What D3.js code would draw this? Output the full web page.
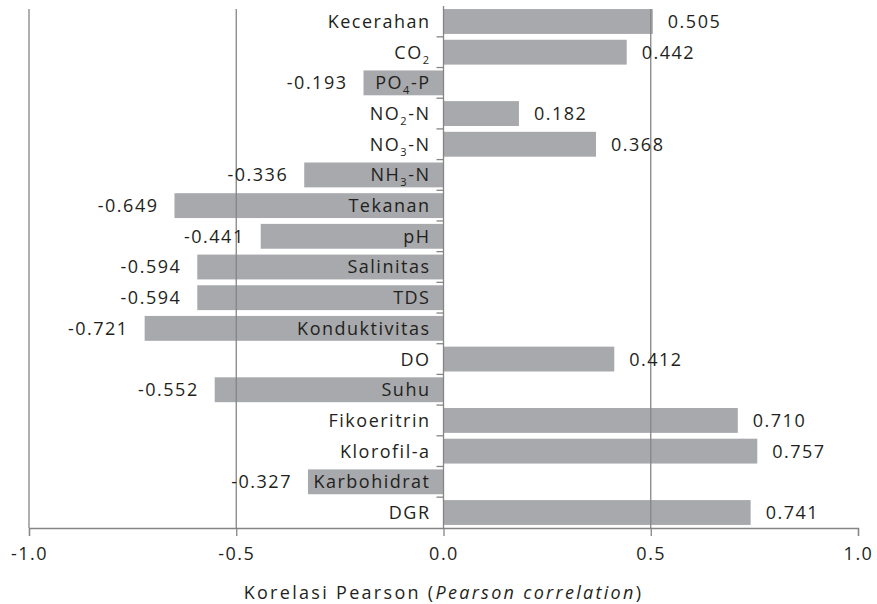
<!DOCTYPE html>
<html>
<head>
<meta charset="utf-8">
<script src="https://cdn.jsdelivr.net/npm/d3@7/dist/d3.min.js"></script>
<style>
  html, body { margin: 0; padding: 0; background: #fff; }
  svg text { font-family: "Open Sans", sans-serif; fill: #231f20; }
</style>
</head>
<body>
<svg id="chart" width="877" height="604"></svg>
<script>
// ── Data ──────────────────────────────────────────────────────────────────────
// label parts: [text, subscript, rest]
const categories = [
  ['Kecerahan'], ['CO', '2'], ['PO', '4', '-P'], ['NO', '2', '-N'], ['NO', '3', '-N'],
  ['NH', '3', '-N'], ['Tekanan'], ['pH'], ['Salinitas'], ['TDS'], ['Konduktivitas'],
  ['DO'], ['Suhu'], ['Fikoeritrin'], ['Klorofil-a'], ['Karbohidrat'], ['DGR']
];
const values = [0.505, 0.442, -0.193, 0.182, 0.368, -0.336, -0.649, -0.441, -0.594,
  -0.594, -0.721, 0.412, -0.552, 0.710, 0.757, -0.327, 0.741];
const xTicks = [-1.0, -0.5, 0.0, 0.5, 1.0];
const gridTicks = [-1.0, -0.5, 0.5];

const rows = categories.map((c, i) => ({ id: i, parts: c, v: values[i] }));

// plain hyphen for negatives, like the original
d3.formatDefaultLocale({ decimal: '.', thousands: ',', grouping: [3], currency: ['', ''], minus: '-' });

// ── Scales ────────────────────────────────────────────────────────────────────
const svg = d3.select('#chart');
const plotTop = 6, plotBottom = 528;
const x = d3.scaleLinear().domain([-1, 1]).range([29, 858]);
const y = d3.scaleBand().domain(rows.map(d => d.id)).range([plotTop, plotBottom]).paddingInner(0.19).paddingOuter(0.1);

const gray = '#858585';
const barCol = '#a7a9ac';
const fs = 18;
const ls = '1.5px';

// bars
svg.append('g').selectAll('rect')
  .data(rows)
  .join('rect')
  .attr('x', d => x(Math.min(0, d.v)))
  .attr('y', d => y(d.id))
  .attr('width', d => Math.abs(x(d.v) - x(0)))
  .attr('height', y.bandwidth())
  .attr('fill', barCol);

// gridlines (drawn over bars)
svg.append('g').selectAll('line')
  .data(gridTicks)
  .join('line')
  .attr('x1', d => x(d)).attr('x2', d => x(d))
  .attr('y1', 9).attr('y2', plotBottom)
  .attr('stroke', gray).attr('stroke-width', 1.3);

// x axis
const xAxis = svg.append('g')
  .attr('transform', `translate(0,${plotBottom})`)
  .call(d3.axisBottom(x).tickValues(xTicks).tickFormat(d3.format('.1f')).tickSize(8).tickPadding(11));
xAxis.select('.domain').attr('stroke', gray).attr('stroke-width', 1.3);
xAxis.selectAll('.tick line').attr('stroke', gray).attr('stroke-width', 1.3);
xAxis.selectAll('.tick text')
  .style('font-family', '"Open Sans", sans-serif')
  .style('font-size', fs + 'px')
  .attr('fill', '#231f20')
  .attr('letter-spacing', ls);

// zero axis with band-boundary ticks
const yAxis = svg.append('g').attr('transform', `translate(${x(0)},0)`);
yAxis.append('line')
  .attr('y1', plotTop).attr('y2', plotBottom)
  .attr('stroke', gray).attr('stroke-width', 1.3);
const step = y.step();
const bounds = d3.range(1, rows.length).map(i => y(i) - (step - y.bandwidth()) / 2);
yAxis.selectAll('.bt')
  .data(bounds)
  .join('line')
  .attr('class', 'bt')
  .attr('x1', -7).attr('x2', 0)
  .attr('y1', d => d).attr('y2', d => d)
  .attr('stroke', gray).attr('stroke-width', 1.3);

// category labels
const labels = svg.append('g').selectAll('text')
  .data(rows)
  .join('text')
  .attr('x', x(0) - 13)
  .attr('y', d => y(d.id) + y.bandwidth() / 2)
  .attr('dy', '0.36em')
  .attr('text-anchor', 'end')
  .attr('letter-spacing', ls)
  .style('font-size', fs + 'px');
labels.each(function (d) {
  const t = d3.select(this);
  t.append('tspan').text(d.parts[0]);
  if (d.parts.length > 1) {
    t.append('tspan').attr('dy', 5).style('font-size', '11px').text(d.parts[1]);
    if (d.parts[2]) t.append('tspan').attr('dy', -5).text(d.parts[2]);
  }
});

// value labels
svg.append('g').selectAll('text')
  .data(rows)
  .join('text')
  .attr('x', d => d.v >= 0 ? x(d.v) + 15 : x(d.v) - 16)
  .attr('y', d => y(d.id) + y.bandwidth() / 2)
  .attr('dy', '0.36em')
  .attr('text-anchor', d => d.v >= 0 ? 'start' : 'end')
  .attr('letter-spacing', ls)
  .style('font-size', fs + 'px')
  .text(d => d3.format('.3f')(d.v));

// axis title
const title = svg.append('text')
  .attr('x', x(0))
  .attr('y', 599)
  .attr('text-anchor', 'middle')
  .attr('letter-spacing', '2.3px')
  .style('font-size', fs + 'px');
title.append('tspan').text('Korelasi Pearson (');
title.append('tspan').style('font-style', 'italic').text('Pearson correlation');
title.append('tspan').text(')');
</script>
</body>
</html>
